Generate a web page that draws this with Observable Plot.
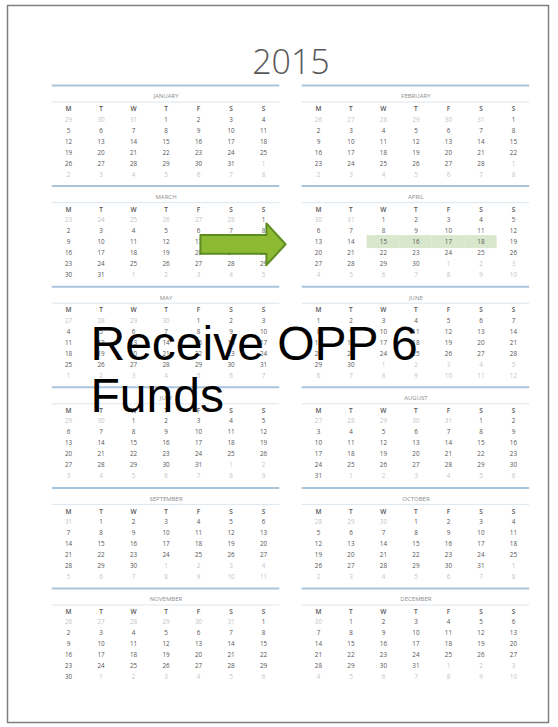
<!DOCTYPE html>
<html><head><meta charset="utf-8">
<script src="https://cdn.jsdelivr.net/npm/d3@7"></script>
<script src="https://cdn.jsdelivr.net/npm/@observablehq/plot@0.6"></script>
<style>body{margin:0;background:#fff}</style>
</head><body><div id="chart"></div>
<script>
// ---- data ----
const yearLabel = "2015";
const monthNames = ["JANUARY","FEBRUARY","MARCH","APRIL","MAY","JUNE","JULY","AUGUST","SEPTEMBER","OCTOBER","NOVEMBER","DECEMBER"];
const weekdayLabels = ["M","T","W","T","F","S","S"];
// weekday (Monday = 0) of the 1st of each month, and month lengths
const firstWeekday = [3,6,6,2,4,0,2,5,1,3,6,1];
const monthLengths = [31,28,31,30,31,30,31,31,30,31,30,31];
const previousDecemberLength = 31;
const highlightMonth = "APRIL";
const highlightDays = [15,16,17,18];
const noteLines = ["Receive OPP 6", "Funds"];

// ---- layout (in column / row units) ----
const COL = 32.5, ROW = 11;
const blockDX = 7.69, blockDY = 9.145;
const blockX = m => (m % 2) * blockDX;
const blockY = m => Math.floor(m / 2) * blockDY;

const cells = [];
monthNames.forEach((name, m) => {
  const len = monthLengths[m];
  const prevLen = m === 0 ? previousDecemberLength : monthLengths[m - 1];
  for (let i = 0; i < 42; i++) {
    const wd = i % 7, r = Math.floor(i / 7);
    const k = i - firstWeekday[m];
    let day, inMonth = true;
    if (k < 0) { day = prevLen + k + 1; inMonth = false; }
    else if (k >= len) { day = k - len + 1; inMonth = false; }
    else day = k + 1;
    cells.push({month: name, m, wd, r, day, inMonth, x: blockX(m) + wd, y: blockY(m) + 3.09 + r});
  }
});
const headers = monthNames.flatMap((name, m) => weekdayLabels.map((lab, wd) => ({lab, x: blockX(m) + wd, y: blockY(m) + 2.14})));
const blocks = monthNames.map((name, m) => ({name, x: blockX(m) + 3, x1: blockX(m) - 0.5, x2: blockX(m) + 6.5, y: blockY(m)}));
const hiCells = cells.filter(d => d.month === highlightMonth && d.inMonth && highlightDays.includes(d.day));

// arrow pointing at highlighted row
const hy = hiCells[0].y + 0.2;
const aLeft = blockX(2) + 4.06, aBase = blockX(2) + 6.09, aTip = blockX(2) + 6.68;
const arrow = [
  [aLeft, hy - 0.85], [aBase, hy - 0.85], [aBase, hy - 1.9], [aTip, hy],
  [aBase, hy + 1.9], [aBase, hy + 0.85], [aLeft, hy + 0.85]
];

const chart = Plot.plot({
  width: 558, height: 727, margin: 0,
  style: {fontFamily: "'Open Sans', sans-serif", background: "white"},
  x: {domain: [-68 / COL, 490 / COL], range: [0, 558], axis: null},
  y: {domain: [-85 / ROW, 642 / ROW], range: [0, 727], axis: null},
  marks: [
    Plot.frame({stroke: "#7f7f7f", strokeWidth: 1.5, insetLeft: 7, insetTop: 5, insetRight: 10, insetBottom: 5}),
    Plot.text([yearLabel], {x: (blocks[0].x1 + blocks[1].x2) / 2, y: -2.05, fontSize: 34, fontWeight: 300, fill: "#595959"}),
    Plot.ruleY(blocks, {y: "y", x1: "x1", x2: "x2", stroke: "#a9c5dc", strokeWidth: 2}),
    Plot.ruleY(blocks, {y: d => d.y + 1.5, x1: "x1", x2: "x2", stroke: "#dbe6ef", strokeWidth: 1}),
    Plot.text(blocks, {x: "x", y: d => d.y + 1.0, text: "name", fontSize: 6, fill: "#8c8c8c", letterSpacing: "0.6px"}),
    Plot.rect(hiCells, {x1: d => d.x - 0.5, x2: d => d.x + 0.5, y1: d => d.y - 0.59, y2: d => d.y + 0.59, fill: "#d9e7cc"}),
    Plot.text(headers, {x: "x", y: "y", text: "lab", fontSize: 6.5, fill: "#555", fontWeight: 600}),
    Plot.text(cells, {x: "x", y: "y", text: "day", fontSize: 6.3, fill: d => d.inMonth ? "#555" : "#c4c4c4"}),
    Plot.line(arrow, {x: d => d[0], y: d => d[1], curve: "linear-closed", fill: "#8cbb33", stroke: "#5d8c22", strokeWidth: 2}),
    Plot.text([noteLines.join("\n")], {x: blockX(4) + 0.677, y: blockY(4) + 3.27, textAnchor: "start", lineAnchor: "top", lineHeight: 1.083, fontSize: 48, fontFamily: "'Liberation Sans', Arial, sans-serif", fill: "black"})
  ]
});
document.getElementById("chart").appendChild(chart);
</script>
</body></html>
